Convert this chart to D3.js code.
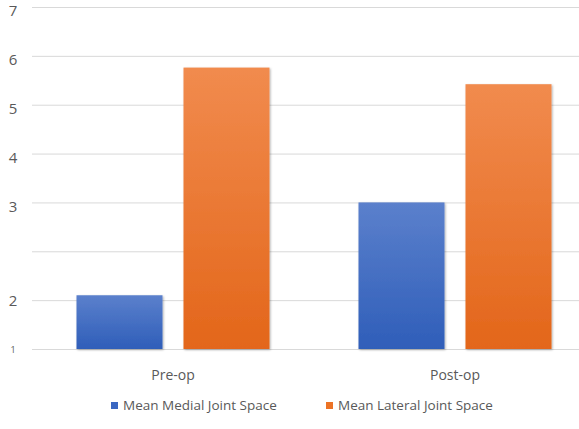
<!DOCTYPE html>
<html>
<head>
<meta charset="utf-8">
<script src="https://cdn.jsdelivr.net/npm/d3@7"></script>
<style>
  body { margin: 0; background: #fff; }
  svg { display: block; font-family: "Open Sans", sans-serif; }
  .grid line { stroke: #d9d9d9; stroke-width: 1; }
  .tick-label { fill: #595959; font-size: 15px; }
  .cat-label { fill: #595959; font-size: 14px; }
  .legend-text { fill: #595959; font-size: 13.5px; }
</style>
</head>
<body>
<svg id="chart" width="579" height="429"></svg>
<script>
// data
const categories = ["Pre-op", "Post-op"];
const seriesNames = ["Mean Medial Joint Space", "Mean Lateral Joint Space"];
const medialValues = [2.05, 3.0];
const lateralValues = [5.76, 5.42];
// the picture's axis skips a label: gridlines 1,2,(blank),3..7
const tickLabels = ["1", "2", "", "3", "4", "5", "6", "7"];
const labelValues = [1, 2, 3, 4, 5, 6, 7];
const labelRows = [0, 1, 3, 4, 5, 6, 7];

const svgEl = d3.select("#chart");
const margin = { top: 7, right: -17, bottom: 80, left: 32 };
const viewW = 579, viewH = 429;
const innerW = viewW - margin.left - margin.right;

const g = svgEl.append("g").attr("transform", `translate(${margin.left},${margin.top})`);

/* ---------- Scales ---------- */
const rowScale = d3.scaleLinear().domain([0, tickLabels.length - 1]).range([342, 0]);
const valueToRow = d3.scaleLinear().domain(labelValues).range(labelRows);
const yScale = v => rowScale(valueToRow(v));

const groupW = 193, barGap = 21;
const x0 = d3.scaleBand().domain(categories).range([0, innerW]);
const x1 = d3.scaleBand().domain(seriesNames).range([0, groupW])
  .paddingInner(barGap / ((groupW + barGap) / 2)).paddingOuter(0);

/* ---------- Gradients & shadow ---------- */
const defs = svgEl.append("defs");
const gradStops = [
  ["grad-blue", "#5b80cc", "#2f5eb9"],
  ["grad-orange", "#f18b4e", "#e3661a"]
];
gradStops.forEach(([id, top, bottom]) => {
  const lg = defs.append("linearGradient").attr("id", id)
    .attr("x1", 0).attr("y1", 0).attr("x2", 0).attr("y2", 1);
  lg.append("stop").attr("offset", "0%").attr("stop-color", top);
  lg.append("stop").attr("offset", "100%").attr("stop-color", bottom);
});
const shadow = defs.append("filter").attr("id", "shadow")
  .attr("x", "-10%").attr("y", "-10%").attr("width", "120%").attr("height", "120%");
shadow.append("feDropShadow").attr("dx", 1).attr("dy", 1).attr("stdDeviation", 1.2)
  .attr("flood-color", "#000").attr("flood-opacity", 0.3);

/* ---------- Gridlines & y labels ---------- */
const rows = d3.range(tickLabels.length);
g.append("g").attr("class", "grid").selectAll("line")
  .data(rows).join("line")
  .attr("x1", 0).attr("x2", innerW)
  .attr("y1", d => rowScale(d) + 0.5).attr("y2", d => rowScale(d) + 0.5);

g.append("g").selectAll("text")
  .data(rows).join("text")
  .attr("class", "tick-label")
  .attr("x", -19).attr("y", d => rowScale(d) + (d >= 3 ? 4 : 1))
  .attr("dy", "0.35em").attr("text-anchor", "middle")
  .style("font-size", d => d === 0 ? "9px" : null)
  .text(d => tickLabels[d]);

/* ---------- Bars ---------- */
const barData = categories.flatMap((c, i) => [
  { cat: c, series: seriesNames[0], value: medialValues[i], fill: "url(#grad-blue)" },
  { cat: c, series: seriesNames[1], value: lateralValues[i], fill: "url(#grad-orange)" }
]);
const groupOffset = (x0.bandwidth() - groupW) / 2;

g.append("g").selectAll("rect")
  .data(barData).join("rect")
  .attr("x", d => x0(d.cat) + groupOffset + x1(d.series))
  .attr("width", x1.bandwidth())
  .attr("y", d => yScale(d.value))
  .attr("height", d => yScale(1) - yScale(d.value))
  .attr("fill", d => d.fill)
  .attr("filter", "url(#shadow)");

/* ---------- Category labels ---------- */
g.append("g").selectAll("text")
  .data(categories).join("text")
  .attr("class", "cat-label")
  .attr("x", d => x0(d) + groupOffset + groupW / 2)
  .attr("y", 373)
  .attr("text-anchor", "middle")
  .text(d => d);

/* ---------- Legend ---------- */
const legendColors = ["#3a67c2", "#ec7325"];
const legendX = [111, 326];
const legend = svgEl.append("g").selectAll("g")
  .data(seriesNames).join("g")
  .attr("transform", (d, i) => `translate(${legendX[i]},410)`);
legend.append("rect").attr("x", 0).attr("y", -8).attr("width", 7).attr("height", 7)
  .attr("fill", (d, i) => legendColors[i]);
legend.append("text").attr("class", "legend-text")
  .attr("x", 12).attr("y", 0)
  .text(d => d);
</script>
</body>
</html>
